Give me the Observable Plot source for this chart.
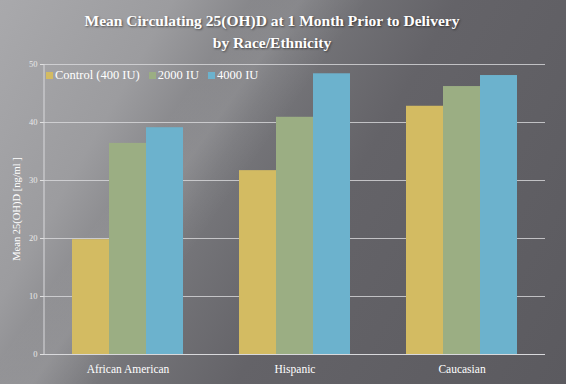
<!DOCTYPE html>
<html>
<head>
<meta charset="utf-8">
<script src="https://cdn.jsdelivr.net/npm/d3@7"></script>
<script src="https://cdn.jsdelivr.net/npm/@observablehq/plot@0.6"></script>
<style>
  html, body { margin: 0; padding: 0; }
  #wrap {
    position: relative; width: 566px; height: 384px; overflow: hidden;
    background:
      linear-gradient(125deg, rgba(255,255,255,0) 0%, rgba(255,255,255,0) 30%, rgba(255,255,255,0.10) 36%, rgba(255,255,255,0) 44%),
      linear-gradient(120deg, #a9a9ac 0%, #9c9c9f 22%, #77777b 40%, #646368 58%, #5b5a5f 100%);
    font-family: "Liberation Serif", "DejaVu Serif", serif;
  }
  #title {
    position: absolute; left: 0; top: 10px; width: 544px; text-align: center;
    color: #fff; font-weight: bold; font-size: 15.5px; line-height: 22px;
    text-shadow: 1px 1px 2px rgba(0,0,0,0.5);
  }
  #legend {
    position: absolute; left: 46px; top: 68px; display: flex; gap: 9px;
    color: #fff; font-size: 12.5px; align-items: center;
  }
  #legend span.item { display: flex; align-items: center; gap: 2px; }
  #legend span.sw { width: 7px; height: 7px; display: inline-block; }
  #chart { position: absolute; left: 0; top: 50px; }
</style>
</head>
<body>
<div id="wrap">
  <div id="title">Mean Circulating 25(OH)D at 1 Month Prior to Delivery<br>by Race/Ethnicity</div>
  <div id="chart"></div>
  <div id="legend"></div>
</div>
<script>
const categories = ["African American", "Hispanic", "Caucasian"];
const series = ["Control (400 IU)", "2000 IU", "4000 IU"];
const colors = ["#d3bb62", "#9bae83", "#6cb2cd"];
const control = [19.8, 31.7, 42.8];
const iu2000 = [36.4, 40.9, 46.2];
const iu4000 = [39.1, 48.4, 48.1];
const yTicks = [0, 10, 20, 30, 40, 50];
const yLabel = "Mean 25(OH)D [ng/ml ]";

const values = [control, iu2000, iu4000];
const data = [];
categories.forEach((c, i) => series.forEach((s, j) => data.push({category: c, series: s, value: values[j][i]})));

const plot = Plot.plot({
  width: 566,
  height: 334,
  marginTop: 14,
  marginBottom: 30,
  marginLeft: 44,
  marginRight: 21,
  style: {background: "transparent", color: "#fff", fontFamily: "'Liberation Serif', 'DejaVu Serif', serif"},
  fx: {domain: categories, padding: 0, label: null, axis: null},
  x: {domain: series, paddingInner: 0, paddingOuter: 0.717, axis: null},
  y: {domain: [0, 50], ticks: yTicks, label: null, axis: null},
  color: {domain: series, range: colors},
  marks: [
    Plot.ruleY(yTicks.filter(d => d > 0), {stroke: "#d9d9dc", strokeWidth: 1, strokeOpacity: 0.8}),
    Plot.barY(data, {fx: "category", x: "series", y: "value", fill: "series", inset: 0}),
    Plot.ruleY([0], {stroke: "#d9d9dc", strokeWidth: 1.2}),
    Plot.axisY({facet: "exclude", ticks: yTicks, tickSize: 4, tickPadding: 3, fontSize: 8.5, stroke: "#e0e0e0", color: "#e8e8e8", label: null}),
    Plot.axisFx({anchor: "bottom", tickSize: 0, tickPadding: 10, fontSize: 11.5, label: null, color: "#fff"})
  ]
});
document.getElementById("chart").appendChild(plot);

const svg = d3.select(plot);
const ys = plot.scale("y");
svg.append("line")
  .attr("x1", 44).attr("x2", 44)
  .attr("y1", ys.apply(50)).attr("y2", ys.apply(0))
  .attr("stroke", "#d9d9dc").attr("stroke-width", 1);

svg.append("text")
  .attr("transform", `translate(18,${(ys.apply(0) + ys.apply(50)) / 2}) rotate(-90)`)
  .attr("text-anchor", "middle")
  .attr("dominant-baseline", "middle")
  .attr("fill", "#fff")
  .attr("font-size", 10.5)
  .text(yLabel);

const legend = document.getElementById("legend");
series.forEach((s, i) => {
  const it = document.createElement("span");
  it.className = "item";
  const sw = document.createElement("span");
  sw.className = "sw";
  sw.style.background = colors[i];
  it.appendChild(sw);
  it.appendChild(document.createTextNode(s));
  legend.appendChild(it);
});
</script>
</body>
</html>
